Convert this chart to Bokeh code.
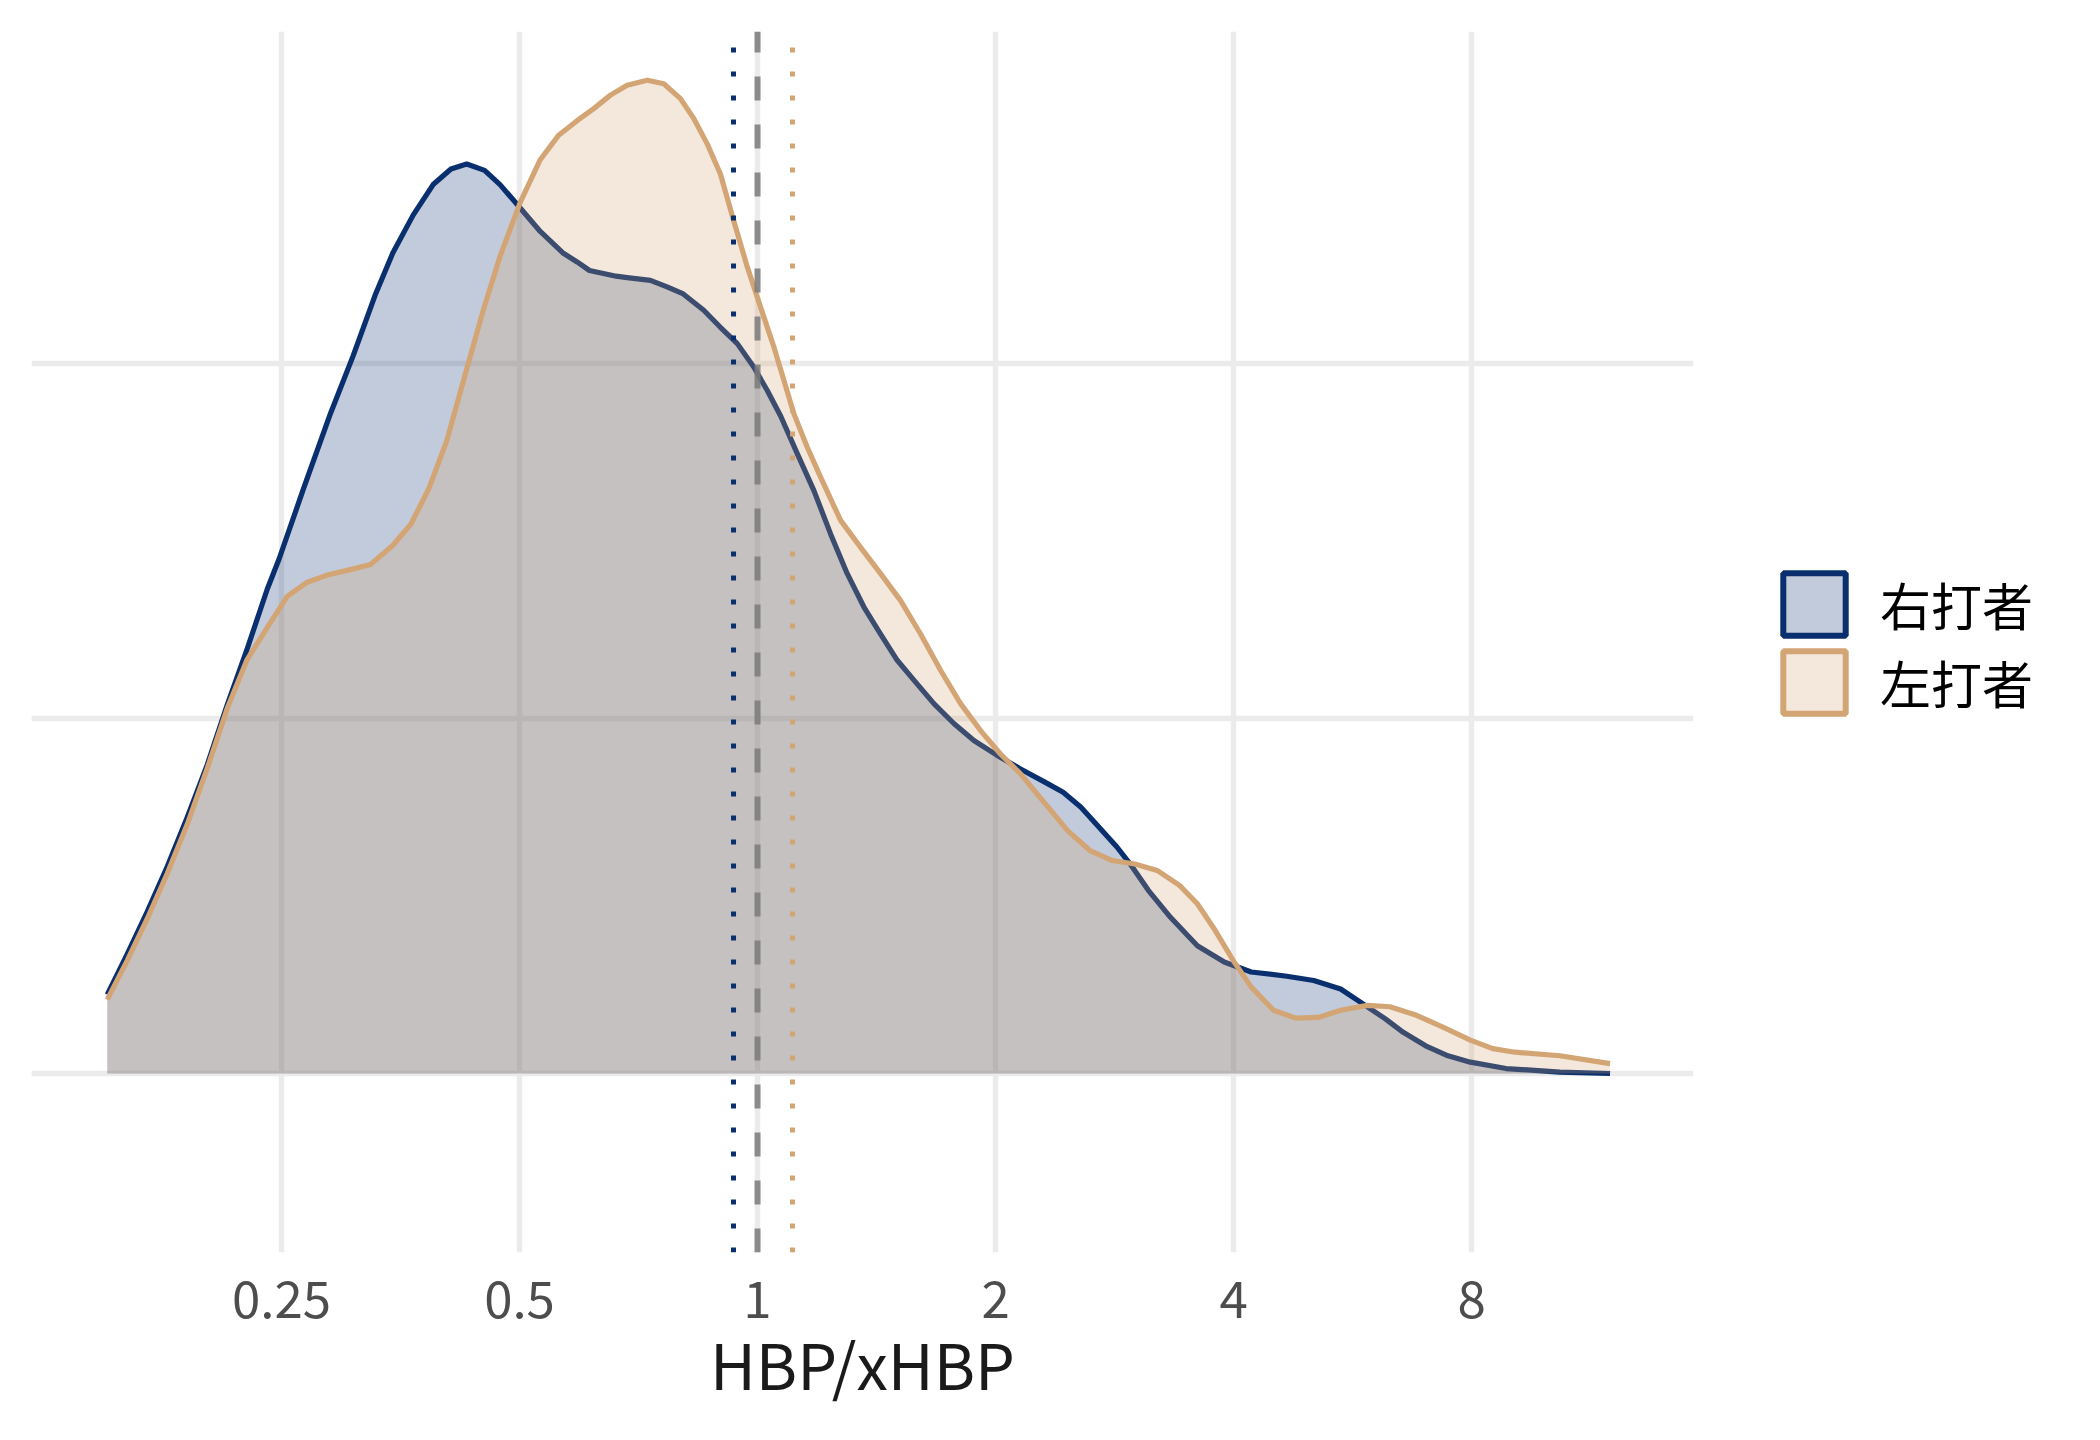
from bokeh.plotting import figure
from bokeh.models import (Range1d, FixedTicker, Grid, Legend, LegendItem,
                          CustomJSTickFormatter)
from bokeh.embed import file_html
from bokeh.resources import INLINE

# ---- data -----------------------------------------------------------------
# 右打者 (right-handed batters): density of HBP/xHBP (log scale)
rhb_x = [0.1505, 0.1595, 0.1691, 0.1793, 0.1900, 0.2014, 0.2134, 0.2262, 0.2398,
         0.2483, 0.2666, 0.2884, 0.3078, 0.3283, 0.3458, 0.3668, 0.3888, 0.4095,
         0.4287, 0.4516, 0.4724, 0.5010, 0.5311, 0.5669, 0.5913, 0.6130, 0.6625,
         0.6840, 0.7320, 0.7684, 0.8055, 0.8550, 0.8975, 0.9428, 0.9890, 1.0288,
         1.0696, 1.1227, 1.1785, 1.2371, 1.2986, 1.3632, 1.4310, 1.5021, 1.5768,
         1.6713, 1.7715, 1.8777, 2.0097, 2.1510, 2.3118, 2.4352, 2.5650, 2.7038,
         2.8480, 2.9608, 3.1210, 3.3288, 3.6000, 3.8932, 4.2105, 4.6720, 5.0524,
         5.4640, 5.8320, 6.2244, 6.5568, 6.9988, 7.4692, 7.9724, 8.8456, 10.3456,
         11.975]
rhb_d = [0.111, 0.168, 0.228, 0.292, 0.361, 0.435, 0.519, 0.598, 0.682,
         0.725, 0.824, 0.930, 1.010, 1.096, 1.156, 1.209, 1.252, 1.274,
         1.281, 1.272, 1.252, 1.219, 1.186, 1.156, 1.143, 1.131, 1.123,
         1.121, 1.117, 1.108, 1.098, 1.075, 1.051, 1.028, 0.995, 0.962,
         0.926, 0.873, 0.821, 0.760, 0.704, 0.657, 0.619, 0.582, 0.554,
         0.521, 0.493, 0.469, 0.448, 0.429, 0.410, 0.396, 0.375, 0.347,
         0.319, 0.295, 0.258, 0.220, 0.180, 0.157, 0.143, 0.137, 0.131,
         0.119, 0.098, 0.077, 0.058, 0.039, 0.025, 0.016, 0.007, 0.002,
         0.000]

# 左打者 (left-handed batters)
lhb_x = [0.1505, 0.1595, 0.1691, 0.1793, 0.1900, 0.2014, 0.2134, 0.2262, 0.2398,
         0.2542, 0.2694, 0.2856, 0.3038, 0.3240, 0.3458, 0.3645, 0.3840, 0.4042,
         0.4257, 0.4488, 0.4724, 0.5010, 0.5311, 0.5598, 0.5913, 0.6207, 0.6516,
         0.6840, 0.7255, 0.7610, 0.7989, 0.8305, 0.8640, 0.8975, 0.9330, 0.9706,
         1.0091, 1.0490, 1.0800, 1.1119, 1.1559, 1.2016, 1.2737, 1.3500, 1.4310,
         1.5168, 1.6077, 1.7041, 1.8063, 1.9145, 2.0293, 2.1510, 2.2958, 2.4674,
         2.6336, 2.8108, 3.0000, 3.2020, 3.4176, 3.6000, 3.7946, 3.9972, 4.2105,
         4.4940, 4.7964, 5.1196, 5.4640, 5.9092, 6.3072, 6.8164, 7.3716, 7.9724,
         8.5088, 9.0816, 10.3456, 11.975]
lhb_d = [0.104, 0.159, 0.218, 0.282, 0.351, 0.430, 0.514, 0.583, 0.628,
         0.672, 0.692, 0.702, 0.709, 0.717, 0.744, 0.774, 0.824, 0.890,
         0.980, 1.071, 1.151, 1.227, 1.287, 1.321, 1.342, 1.359, 1.378,
         1.392, 1.399, 1.394, 1.373, 1.345, 1.309, 1.267, 1.201, 1.136,
         1.079, 1.023, 0.976, 0.929, 0.882, 0.840, 0.779, 0.741, 0.704,
         0.666, 0.619, 0.568, 0.521, 0.483, 0.450, 0.422, 0.384, 0.342,
         0.314, 0.300, 0.295, 0.286, 0.265, 0.239, 0.201, 0.159, 0.122,
         0.089, 0.078, 0.079, 0.089, 0.096, 0.094, 0.082, 0.065, 0.047,
         0.035, 0.030, 0.025, 0.014]

# group means (dotted) and reference value (dashed)
mean_rhb = 0.9325
mean_lhb = 1.1073
ref_value = 1.0

x_ticks = [0.25, 0.5, 1, 2, 4, 8]
y_grid = [0.0, 0.5, 1.0]
x_lo, x_hi = 0.1207, 15.27
y_lo, y_hi = -0.2521, 1.4676

labels = ["右打者", "左打者"]
means = [mean_rhb, mean_lhb]
BLUE = "#0a2f6e"
ORANGE = "#d4a574"
FONT = "Noto Sans CJK JP"

# ---- figure ----------------------------------------------------------------
p = figure(frame_width=1662, frame_height=1221, x_axis_type="log",
           x_range=Range1d(x_lo, x_hi), y_range=Range1d(y_lo, y_hi),
           y_axis_location=None, output_backend="svg", toolbar_location=None,
           min_border_left=31, min_border_top=31, min_border_right=0,
           min_border_bottom=0)
p.outline_line_color = None
p.background_fill_color = "white"
p.border_fill_color = "white"

# grids
p.xaxis.ticker = FixedTicker(ticks=x_ticks)
p.xgrid.grid_line_color = "#ebebeb"
p.xgrid.grid_line_width = 5.4
p.add_layout(Grid(dimension=1, ticker=FixedTicker(ticks=y_grid),
                  grid_line_color="#ebebeb", grid_line_width=5.4))

# axis styling
ax = p.xaxis[0]
ax.formatter = CustomJSTickFormatter(code="return tick.toString()")
ax.axis_line_color = None
ax.major_tick_line_color = None
ax.minor_tick_line_color = None
ax.major_label_text_font = FONT
ax.major_label_text_font_size = "51px"
ax.major_label_text_color = "#4d4d4d"
ax.major_label_standoff = 22
ax.axis_label = "HBP/xHBP"
ax.axis_label_text_font = FONT
ax.axis_label_text_font_size = "63px"
ax.axis_label_text_font_style = "normal"
ax.axis_label_text_color = "#1a1a1a"
ax.axis_label_standoff = -4

# densities
p.varea(x=rhb_x, y1=0, y2=rhb_d, fill_color=BLUE, fill_alpha=0.25)
p.line(x=rhb_x, y=rhb_d, line_color=BLUE, line_width=5.2, line_join="round")
p.varea(x=lhb_x, y1=0, y2=lhb_d, fill_color=ORANGE, fill_alpha=0.25)
p.line(x=lhb_x, y=lhb_d, line_color=ORANGE, line_width=5.2, line_join="round")

# vertical reference lines (drawn bottom to top)
p.segment(x0=[ref_value], y0=[y_lo], x1=[ref_value], y1=[y_hi],
          line_color="#7a7a7a", line_alpha=0.85, line_width=6, line_dash="24 24")
p.segment(x0=[mean_rhb], y0=[y_lo], x1=[mean_rhb], y1=[y_hi],
          line_color=BLUE, line_width=5, line_dash="5 19")
p.segment(x0=[mean_lhb], y0=[y_lo], x1=[mean_lhb], y1=[y_hi],
          line_color=ORANGE, line_width=5, line_dash="5 19")

# legend swatches: zero-size rects (invisible in the plot) carry the key style
kb = p.rect(x=[means[0]], y=[0], width=0, height=0, fill_color=BLUE,
            fill_alpha=0.25, line_color=BLUE, line_width=6)
ko = p.rect(x=[means[1]], y=[0], width=0, height=0, fill_color=ORANGE,
            fill_alpha=0.25, line_color=ORANGE, line_width=6)
legend = Legend(items=[LegendItem(label=labels[0], renderers=[kb]),
                       LegendItem(label=labels[1], renderers=[ko])],
                location=(82, 531), orientation="vertical",
                glyph_width=78, glyph_height=78, spacing=-6,
                padding=0, margin=0, label_standoff=27, label_height=20,
                label_text_font=FONT, label_text_font_size="51px",
                label_text_line_height=1.0,
                label_text_color="black",
                border_line_color=None, background_fill_alpha=0)
p.add_layout(legend, "right")

open("out.html", "w").write(file_html(p, INLINE))
